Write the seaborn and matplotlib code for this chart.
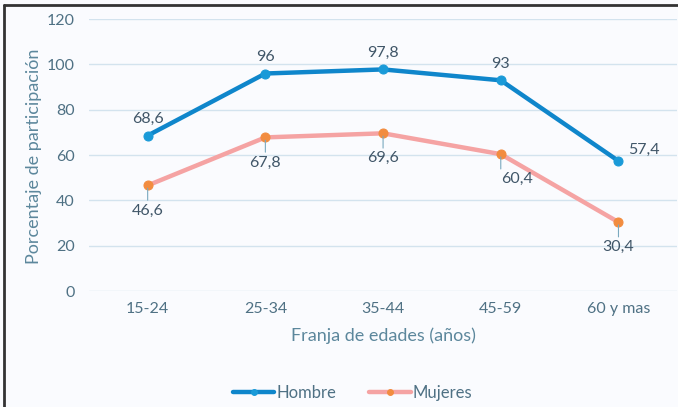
import matplotlib
matplotlib.use("Agg")
import matplotlib.pyplot as plt
from matplotlib.lines import Line2D
import seaborn as sns
import pandas as pd

# Participation rate by age band
categorias = ["15-24", "25-34", "35-44", "45-59", "60 y mas"]
hombre = [68.6, 96.0, 97.8, 93.0, 57.4]
mujeres = [46.6, 67.8, 69.6, 60.4, 30.4]
etiquetas_hombre = ["68,6", "96", "97,8", "93", "57,4"]
etiquetas_mujeres = ["46,6", "67,8", "69,6", "60,4", "30,4"]
y_ticks = [0, 20, 40, 60, 80, 100, 120]

sns.set_theme(style="white")
plt.rcParams["font.family"] = ["Lato", "DejaVu Sans"]

texto = "#405668"
texto_ejes = "#4f7184"
titulo_eje = "#5c879c"
fondo = "#fafbfe"

fig = plt.figure(figsize=(6.78, 4.07), dpi=100, facecolor=fondo)
ax = fig.add_axes([0.131, 0.285, 0.868, 0.668])
ax.set_facecolor(fondo)

df = pd.DataFrame({
    "edad": categorias * 2,
    "valor": hombre + mujeres,
    "serie": ["Hombre"] * len(categorias) + ["Mujeres"] * len(categorias),
})

sns.lineplot(data=df[df.serie == "Hombre"], x="edad", y="valor", ax=ax,
             color="#0f86cb", linewidth=3.2, marker="o", markersize=6.5,
             markerfacecolor="#1a9ad8", markeredgecolor="#1a9ad8",
             label="Hombre", zorder=3)
sns.lineplot(data=df[df.serie == "Mujeres"], x="edad", y="valor", ax=ax,
             color="#f5a3a3", linewidth=3.2, marker="o", markersize=6.5,
             markerfacecolor="#f28c3f", markeredgecolor="#f28c3f",
             label="Mujeres", zorder=3)

ax.set_xlim(-0.5, len(categorias) - 0.5)
ax.set_ylim(0, 120)
ax.set_yticks(y_ticks)
ax.set_yticklabels([str(v) for v in y_ticks])
ax.yaxis.grid(True, color="#d3e3ee", linewidth=1)
ax.set_axisbelow(True)
for s in ax.spines.values():
    s.set_visible(False)
ax.tick_params(axis="both", length=0, labelsize=11.5, labelcolor=texto_ejes)
ax.tick_params(axis="y", pad=10)
ax.tick_params(axis="x", pad=8)

ax.set_xlabel("Franja de edades (años)", fontsize=13, color=titulo_eje, labelpad=8)
ax.set_ylabel("Porcentaje de participación", fontsize=13, color=titulo_eje)
ax.yaxis.set_label_coords(-0.08, 0.495, transform=ax.transAxes)

# Value labels: men above the points, women below with leader lines
for i, (v, t) in enumerate(zip(hombre, etiquetas_hombre)):
    if i == len(hombre) - 1:
        ax.annotate(t, (i, v), xytext=(7, 3), textcoords="offset points",
                    ha="left", va="bottom", fontsize=11.5, color=texto)
    else:
        ax.annotate(t, (i, v), xytext=(0, 7), textcoords="offset points",
                    ha="center", va="bottom", fontsize=11.5, color=texto)

for i, (v, t) in enumerate(zip(mujeres, etiquetas_mujeres)):
    if i == 3:
        ha, rel = "left", (0.0, 1.0)
    else:
        ha, rel = "center", (0.5, 1.0)
    ax.annotate(t, (i, v), xytext=(0, -13), textcoords="offset points",
                ha=ha, va="top", fontsize=11.5, color=texto,
                arrowprops=dict(arrowstyle="-", color="#7aa9bf", lw=0.8,
                                shrinkA=0, shrinkB=2, relpos=rel))

leg = ax.legend(loc="center", bbox_to_anchor=(0.52, 0.035),
                bbox_transform=fig.transFigure, ncol=2, frameon=False,
                fontsize=12, handlelength=2.5, columnspacing=2.0,
                handletextpad=0.1, labelcolor=texto_ejes, markerscale=0.65)

# Dark frame along the left and top edges
fig.add_artist(Line2D([0.0066, 0.0066], [0.0, 0.9865], transform=fig.transFigure,
                      color="#333333", linewidth=2))
fig.add_artist(Line2D([0.0066, 1.0], [0.9865, 0.9865], transform=fig.transFigure,
                      color="#333333", linewidth=2))

fig.savefig("out.png", dpi=100, facecolor=fondo)
